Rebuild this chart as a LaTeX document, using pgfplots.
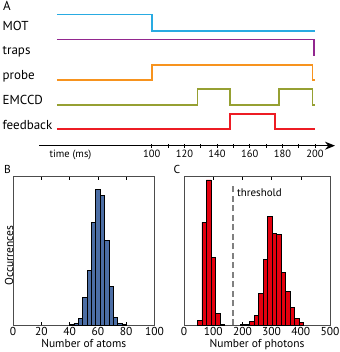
\documentclass[border=0pt]{standalone}
\usepackage{fontspec}
\setmainfont{PT Sans}
\usepackage{pgfplots}
\pgfplotsset{compat=1.18}
\usetikzlibrary{arrows.meta}
\definecolor{cMOT}{RGB}{41,171,226}
\definecolor{cTraps}{RGB}{146,39,143}
\definecolor{cProbe}{RGB}{247,147,30}
\definecolor{cEM}{RGB}{150,160,50}
\definecolor{cFB}{RGB}{237,28,36}
\definecolor{cB}{RGB}{76,110,165}
\definecolor{cC}{RGB}{228,0,15}
\pgfplotsset{/pgf/number format/assume math mode=true}
\begin{document}
\begin{tikzpicture}
\useasboundingbox (0,0) rectangle (339pt,352pt);
% ---------------- Panel A ----------------
\begin{axis}[
  at={(39pt,206.3pt)}, anchor=south west, scale only axis,
  width=296pt, height=140pt,
  xmin=31, xmax=212.2, ymin=-145.7, ymax=-5.7,
  axis x line=bottom, axis y line=none,
  x axis line style={line width=1.1pt, -{Stealth[length=10pt,width=8pt]}},
  xtick={100,120,...,200}, minor xtick={110,130,...,190},
  tick align=center, major tick length=4pt, minor tick length=4pt,
  every tick/.style={black, line width=0.8pt},
  xticklabel style={font=\fontsize{10.5}{12}\selectfont, inner sep=1pt, yshift=-1pt},
  clip=false,
]
\addplot[cMOT, line width=1.6pt] coordinates {(42,-14.7) (100,-14.7) (100,-31) (200,-31)};
\addplot[cTraps, line width=1.6pt] coordinates {(42,-39.7) (199.2,-39.7) (199.2,-56)};
\addplot[cTraps, line width=2.4pt] coordinates {(199.3,-39.7) (199.3,-56)};
\addplot[cProbe, line width=1.6pt] coordinates {(42,-80) (100,-80) (100,-65) (198.5,-65) (198.5,-80) (200,-80)};
\addplot[cEM, line width=1.6pt] coordinates {(42,-105) (128,-105) (128,-89) (148,-89) (148,-105) (178,-105) (178,-89) (198.5,-89) (198.5,-105) (200,-105)};
\addplot[cFB, line width=1.6pt] coordinates {(42,-129.3) (148,-129.3) (148,-114.3) (175.5,-114.3) (175.5,-129.3) (200,-129.3)};
\end{axis}
\begin{scope}[every node/.style={inner sep=0pt, anchor=base west, font=\fontsize{13}{15}\selectfont}]
\node at (3pt,352pt-11pt) {A};
\node at (2.5pt,352pt-31pt) {MOT};
\node at (2.5pt,352pt-55pt) {traps};
\node at (2.5pt,352pt-80pt) {probe};
\node at (2.5pt,352pt-105pt) {EMCCD};
\node at (2.5pt,352pt-129.3pt) {feedback};
\node[font=\fontsize{10.5}{12}\selectfont] at (49.3pt,352pt-157.5pt) {time (ms)};
\node[font=\fontsize{11.5}{13}\selectfont] at (4pt,352pt-174pt) {B};
\node[font=\fontsize{11.5}{13}\selectfont] at (173.3pt,352pt-174pt) {C};
\end{scope}
% ---------------- Panel B ----------------
\begin{axis}[
  at={(13pt,26.7pt)}, anchor=south west, scale only axis,
  width=141.5pt, height=148.6pt,
  xmin=0, xmax=100, ymin=0, ymax=150,
  xtick={0,20,...,100}, ytick=\empty,
  tick align=inside, major tick length=3pt,
  every tick/.style={black, line width=0.6pt},
  axis line style={black!70, line width=0.9pt},
  ticklabel style={font=\fontsize{11.5}{13}\selectfont},
  xticklabel style={inner sep=1pt, yshift=-1pt},
  xlabel={Number of atoms},
  xlabel style={font=\fontsize{11.5}{13}\selectfont, at={(axis description cs:0.5,0)}, anchor=base, yshift=-22.5pt},
  ylabel={Occurrences},
  ylabel style={font=\fontsize{11.5}{13}\selectfont, at={(axis description cs:0,0.5)}, anchor=base, xshift=-4.7pt},
]
\addplot[ybar interval, fill=cB, draw=black, line width=0.9pt] coordinates {
(40,1.3) (43.1,2.3) (46.2,7) (49.3,27.7) (52.4,55.7) (55.5,103.7) (58.6,137.3) (61.7,130.7) (64.8,85.7) (67.9,39) (71.0,8.3) (74.1,1.7) (77.2,1) (80.3,1)};
\end{axis}
% ---------------- Panel C ----------------
\begin{axis}[
  at={(184pt,26.7pt)}, anchor=south west, scale only axis,
  width=146pt, height=148.6pt,
  xmin=0, xmax=500, ymin=0, ymax=150,
  xtick={0,100,...,500}, ytick=\empty,
  tick align=inside, major tick length=3pt,
  every tick/.style={black, line width=0.6pt},
  axis line style={black!70, line width=0.9pt},
  ticklabel style={font=\fontsize{11.5}{13}\selectfont},
  xticklabel style={inner sep=1pt, yshift=-1pt},
  xlabel={Number of photons},
  xlabel style={font=\fontsize{11.5}{13}\selectfont, at={(axis description cs:0.5,0)}, anchor=base, yshift=-22.5pt},
  clip=false,
]
\addplot[ybar interval, fill=cC, draw=black, line width=0.9pt] coordinates {
(46,5) (61.5,104) (77,146.7) (92.5,68) (108,12.3) (123.5,0.5) (139,0.5)};
\addplot[ybar interval, fill=cC, draw=black, line width=0.9pt] coordinates {
(193.5,0.5) (209,1) (224.5,4) (240,10.3) (255.5,31.7) (271,66.7) (286.5,109.7) (302,92.3) (317.5,91.7) (333,53) (348.5,33.7) (364,17.7) (379.5,6.7) (395,3) (410.5,3)};
\addplot[gray, line width=1.2pt, dash pattern=on 6pt off 3.5pt] coordinates {(168,0) (168,142)};
\node[anchor=base west, inner sep=0pt, font=\fontsize{11}{13}\selectfont] at (axis cs:181,130.3) {threshold};
\end{axis}
\end{tikzpicture}
\end{document}
